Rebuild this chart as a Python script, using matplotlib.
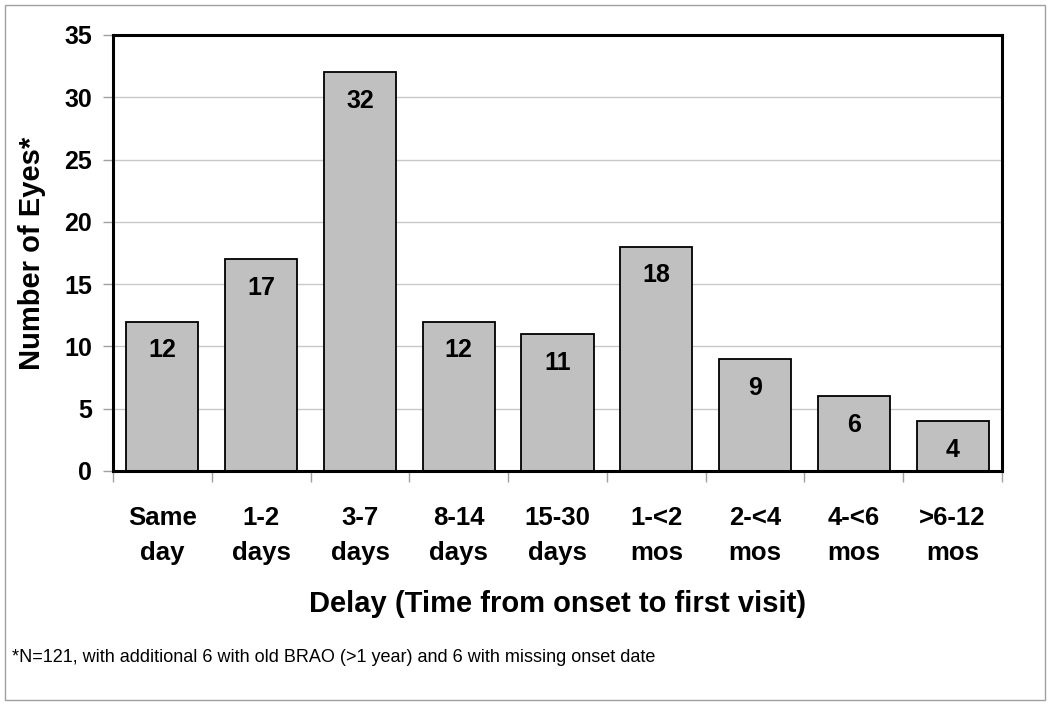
import matplotlib.pyplot as plt
import numpy as np
from matplotlib.patches import Rectangle

plt.rcParams['font.family'] = ['Liberation Sans', 'DejaVu Sans']

categories = ["Same\nday", "1-2\ndays", "3-7\ndays", "8-14\ndays", "15-30\ndays",
              "1-<2\nmos", "2-<4\nmos", "4-<6\nmos", ">6-12\nmos"]
counts = [12, 17, 32, 12, 11, 18, 9, 6, 4]
yticks = [0, 5, 10, 15, 20, 25, 30, 35]

fig = plt.figure(figsize=(10.5, 7.05), dpi=100)
fig.patches.append(Rectangle((5 / 1050, 5 / 705), 1040 / 1050, 695 / 705,
                             transform=fig.transFigure, fill=False,
                             edgecolor="#a0a0a0", linewidth=1))
ax = fig.add_axes([113 / 1050, 1 - 471 / 705, 889 / 1050, 436 / 705])

x = np.arange(len(categories))
bars = ax.bar(x, counts, width=0.73, color="#c0c0c0", edgecolor="black",
              linewidth=1.3, zorder=3)
for xi, c in zip(x, counts):
    ax.annotate(str(c), (xi, c), xytext=(0, -12), textcoords="offset points",
                ha="center", va="top", fontsize=18, fontweight="bold", zorder=4)

ax.set_xlim(-0.5, len(categories) - 0.5)
ax.set_ylim(0, 35)
ax.set_yticks(yticks)
ax.set_yticklabels([str(t) for t in yticks], fontsize=18, fontweight="bold")
ax.set_xticks(x)
ax.set_xticklabels(categories, fontsize=18.5, fontweight="bold", linespacing=1.6)
ax.set_xticks(np.arange(-0.5, len(categories), 1), minor=True)
ax.tick_params(axis="x", which="major", length=0, pad=25)
ax.tick_params(axis="x", which="minor", length=8, color="#a0a0a0", width=1)
ax.tick_params(axis="y", length=7, color="#a0a0a0", width=1, pad=8)
ax.grid(axis="y", color="#c8c8c8", linewidth=1, zorder=0)
ax.set_axisbelow(True)
for s in ax.spines.values():
    s.set_linewidth(2.2)
    s.set_color("black")
    s.set_zorder(5)

ax.set_ylabel("Number of Eyes*", fontsize=21, fontweight="bold", labelpad=13)
ax.set_xlabel("Delay (Time from onset to first visit)", fontsize=21,
              fontweight="bold", labelpad=18)
fig.text(12 / 1050, 1 - 657 / 705,
         "*N=121, with additional 6 with old BRAO (>1 year) and 6 with missing onset date",
         fontsize=13, va="center", ha="left")

fig.savefig("out.png", dpi=100)
